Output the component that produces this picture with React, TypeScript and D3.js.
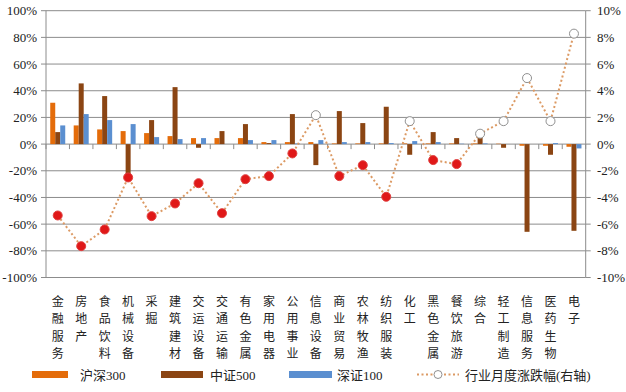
import React from "react";
import * as d3 from "d3";

const categories = ["金融服务","房地产","食品饮料","机械设备","采掘","建筑建材","交运设备","交通运输","有色金属","家用电器","公用事业","信息设备","商业贸易","农林牧渔","纺织服装","化工","黑色金属","餐饮旅游","综合","轻工制造","信息服务","医药生物","电子"];
const hs300 = [31, 14, 11, 9.75, 8.25, 6, 4.5, 4.5, 4.5, 1.5, 1.5, 1.5, 0.5, 0.5, 0.5, 0.5, 0.5, 0.5, 0.5, 0.3, -1.25, -1.25, -2];
const zz500 = [9, 45.5, 36, -23, 18, 42.7, -2.75, 9.75, 15, 0.75, 22.5, -15.75, 24.75, 15.75, 28, -8, 9, 4.5, 5, -2.75, -65.75, -8, -65];
const sz100 = [14, 22.5, 18, 15, 5.25, 3.75, 4.5, 0, 3, 3, 0.5, 3, 1.5, 1.5, 0.75, 2.25, 1.5, 0.3, 0.5, 0, 0, 0.75, -3.25];
const monthly = [-5.35, -7.65, -6.4, -2.5, -5.4, -4.45, -2.93, -5.18, -2.63, -2.4, -0.7, 2.17, -2.4, -1.58, -3.95, 1.72, -1.2, -1.5, 0.78, 1.72, 4.95, 1.72, 8.28];
const leftTicks = [100, 80, 60, 40, 20, 0, -20, -40, -60, -80, -100];
const rightTicks = [10, 8, 6, 4, 2, 0, -2, -4, -6, -8, -10];
const seriesNames = ["沪深300", "中证500", "深证100"];
const lineName = "行业月度涨跌幅(右轴)";

const colors = ["#E46C0A", "#8B4513", "#5B8FD0"];
const lineColor = "#DC9A64";
const gridColor = "#8C8C8C";
const numFont = "'Liberation Serif', 'Noto Sans CJK SC', serif";
const cjkFont = "'Noto Sans CJK SC', sans-serif";

export default function App() {
  const W = 626, H = 392;
  const x0 = 46, x1 = 585.7, yTop = 10.7, yBot = 277.5;
  const x = d3.scaleBand<string>().domain(categories).range([x0, x1]).paddingInner(0).paddingOuter(0);
  const yL = d3.scaleLinear().domain([-100, 100]).range([yBot, yTop]);
  const yR = d3.scaleLinear().domain([-10, 10]).range([yBot, yTop]);
  const bw = 5;
  const groupW = bw * 3;
  const series = [hs300, zz500, sz100];
  const lineGen = d3.line<number>()
    .x((_, i) => (x(categories[i]) as number) + x.bandwidth() / 2)
    .y((d) => yR(d));

  return (
    <svg width={W} height={H} style={{ position: "absolute", left: 0, top: 0, background: "#fff" }}>
      {/* gridlines */}
      {leftTicks.map((t) => (
        <line key={"g" + t} x1={x0} x2={x1} y1={yL(t)} y2={yL(t)} stroke={gridColor} strokeWidth={1} />
      ))}
      {/* axes */}
      <line x1={x0} x2={x0} y1={yTop} y2={yBot} stroke={gridColor} />
      <line x1={x1} x2={x1} y1={yTop} y2={yBot} stroke={gridColor} />
      {leftTicks.map((t) => (
        <line key={"lt" + t} x1={x0 - 5} x2={x0} y1={yL(t)} y2={yL(t)} stroke={gridColor} />
      ))}
      {rightTicks.map((t) => (
        <line key={"rt" + t} x1={x1} x2={x1 + 5} y1={yR(t)} y2={yR(t)} stroke={gridColor} />
      ))}
      {categories.map((c, i) => (
        <line key={"ct" + i} x1={(x(c) as number)} x2={(x(c) as number)} y1={yL(0)} y2={yL(0) + 5} stroke={gridColor} />
      ))}
      <line x1={x1} x2={x1} y1={yL(0)} y2={yL(0) + 5} stroke={gridColor} />
      {/* tick labels */}
      {leftTicks.map((t) => (
        <text key={"ll" + t} x={37} y={yL(t)} dy="0.35em" textAnchor="end" fontFamily={numFont} fontSize={13} fill="#222">{t + "%"}</text>
      ))}
      {rightTicks.map((t) => (
        <text key={"rl" + t} x={597} y={yR(t)} dy="0.35em" textAnchor="start" fontFamily={numFont} fontSize={13} fill="#222">{t + "%"}</text>
      ))}
      {/* bars */}
      {series.map((s, si) => (
        <g key={"s" + si}>
          {s.map((v, i) => {
            const cx = (x(categories[i]) as number) + x.bandwidth() / 2;
            const bx = cx - groupW / 2 + si * bw;
            const y = Math.min(yL(v), yL(0));
            const h = Math.abs(yL(v) - yL(0));
            return <rect key={i} x={bx} y={y} width={bw} height={h} fill={colors[si]} />;
          })}
        </g>
      ))}
      {/* line */}
      <path d={lineGen(monthly) || ""} fill="none" stroke={lineColor} strokeWidth={2} strokeDasharray="2,2.5" />
      {monthly.map((v, i) => {
        const cx = (x(categories[i]) as number) + x.bandwidth() / 2;
        return v < 0 ? (
          <circle key={"m" + i} cx={cx} cy={yR(v)} r={4.5} fill="#E01818" stroke="#E04040" strokeWidth={1} />
        ) : (
          <circle key={"m" + i} cx={cx} cy={yR(v)} r={4.5} fill="#fff" stroke="#909090" strokeWidth={1} />
        );
      })}
      {/* category labels */}
      {categories.map((c, i) => {
        const cx = (x(c) as number) + x.bandwidth() / 2;
        return (
          <text key={"cl" + i} x={cx} textAnchor="middle" fontFamily={cjkFont} fontSize={12} fill="#222">
            {Array.from(c).map((ch, k) => (
              <tspan key={k} x={cx} y={301.7 + k * 17.5} dy="0.35em">{ch}</tspan>
            ))}
          </text>
        );
      })}
      {/* legend */}
      <g>
        <rect x={32} y={371} width={36} height={7} fill={colors[0]} />
        <text x={80} y={375} dy="0.35em" fontFamily={numFont} fontSize={13} fill="#222">{seriesNames[0]}</text>
        <rect x={161} y={371} width={42} height={7} fill={colors[1]} />
        <text x={210} y={375} dy="0.35em" fontFamily={numFont} fontSize={13} fill="#222">{seriesNames[1]}</text>
        <rect x={289} y={371} width={43} height={7} fill={colors[2]} />
        <text x={337} y={375} dy="0.35em" fontFamily={numFont} fontSize={13} fill="#222">{seriesNames[2]}</text>
        <line x1={417} x2={459} y1={374.5} y2={374.5} stroke={lineColor} strokeWidth={2} strokeDasharray="2,2.5" />
        <circle cx={438} cy={374.5} r={4} fill="#fff" stroke="#909090" />
        <text x={465} y={375} dy="0.35em" fontFamily={numFont} fontSize={13} fill="#222">{lineName}</text>
      </g>
    </svg>
  );
}
